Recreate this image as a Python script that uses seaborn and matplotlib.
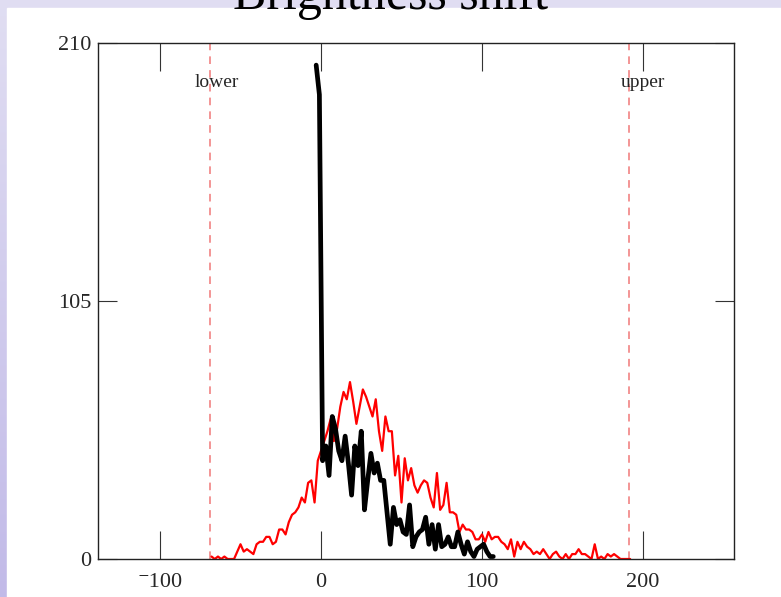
import numpy as np
import seaborn as sns
import matplotlib.pyplot as plt
from matplotlib.patches import Rectangle

# red histogram (all pixels), bins every 2 units from -68 to 192
red_x = np.arange(-68, 194, 2)
red_y = [1, 0, 1, 0, 1, 0, 0, 0, 3, 6,
         3, 4, 3, 2, 6, 7, 7, 9, 9, 6,
         7, 12, 12, 10, 15, 18, 19, 21, 25, 23,
         31, 32, 23, 40, 44, 48, 52, 57, 48, 53,
         62, 68, 65, 72, 64, 55, 62, 69, 66, 62,
         58, 65, 52, 44, 58, 52, 52, 34, 42, 23,
         41, 32, 37, 30, 27, 30, 32, 31, 25, 21,
         35, 20, 22, 31, 19, 19, 18, 11, 14, 12,
         12, 11, 8, 8, 10, 7, 11, 8, 9, 9,
         7, 6, 4, 8, 1, 7, 4, 7, 5, 4,
         2, 3, 2, 4, 2, 0, 2, 3, 1, 0,
         2, 0, 2, 2, 4, 2, 2, 1, 0, 6,
         0, 1, 0, 2, 1, 2, 1, 0, 0, 0, 0]

# black histogram (selected pixels)
black_x = np.arange(-3, 108, 2)
black_y = [201, 189, 40, 46, 34, 58, 53, 44, 40, 50,
           39, 26, 46, 38, 52, 20, 32, 43, 35, 39,
           32, 32, 19, 6, 21, 14, 16, 11, 10, 22,
           5, 9, 11, 12, 17, 6, 14, 4, 14, 5,
           6, 9, 5, 5, 11, 6, 2, 7, 3, 1,
           4, 5, 6, 3, 1, 1]

limits = [-69, 191]
limit_names = ['lower', 'upper']
label_x = [-65, 200]
x_ticks = [-100, 0, 100, 200]
x_tick_labels = ['\u207b100', '0', '100', '200']
y_ticks = [0, 105, 210]

sns.set_theme(style='white')
plt.rcParams['font.family'] = ['Liberation Serif', 'DejaVu Serif']

fig = plt.figure(figsize=(7.81, 5.97), dpi=100)

# slide background: lavender gradient behind a white panel
bg = fig.add_axes([0, 0, 1, 1], zorder=-10)
grad = np.linspace(0, 1, 256).reshape(-1, 1)
top_c = np.array([0.88, 0.87, 0.95])
bot_c = np.array([0.76, 0.73, 0.91])
img = top_c + (bot_c - top_c) * grad[:, :, None]
bg.imshow(img, aspect='auto', extent=[0, 1, 0, 1], origin='upper')
bg.add_patch(Rectangle((7 / 781, 0), 1, 1 - 8 / 597, color='white'))
bg.set_xlim(0, 1)
bg.set_ylim(0, 1)
bg.axis('off')

ax = fig.add_axes([98 / 781, 1 - 559 / 597, 636 / 781, 516 / 597])
ax.set_facecolor('white')

sns.lineplot(x=red_x, y=red_y, color='red', lw=1.6, ax=ax)
sns.lineplot(x=black_x, y=black_y, color='black', lw=3.4, ax=ax)

for lx, name, tx in zip(limits, limit_names, label_x):
    ax.axvline(lx, color='#f07878', lw=1.1, ls=(0, (5, 4)), zorder=1)
    ax.text(tx, 194, name, ha='center', va='center', fontsize=14)

ax.set_xlim(-138.5, 256.5)
ax.set_ylim(0, 210)
ax.set_xticks(x_ticks)
ax.set_xticklabels(x_tick_labels)
ax.set_yticks(y_ticks)
ax.tick_params(axis='x', direction='in', length=20, width=0.8, color='#333333',
               top=True, bottom=True, labelsize=16, pad=10)
ax.tick_params(axis='y', direction='in', length=14, width=0.8, color='#333333',
               left=True, right=True, labelsize=16, pad=5)
for s in ax.spines.values():
    s.set_color('#222222')
    s.set_linewidth(1.0)
ax.set_xlabel('')
ax.set_ylabel('')
ax.grid(False)

# title sits partly above the top edge, as on the original slide
fig.text(0.5, 1 - 9 / 597, 'Brightness shift', ha='center', va='baseline',
         fontsize=36, color='black')

fig.savefig('out.png', dpi=100)
